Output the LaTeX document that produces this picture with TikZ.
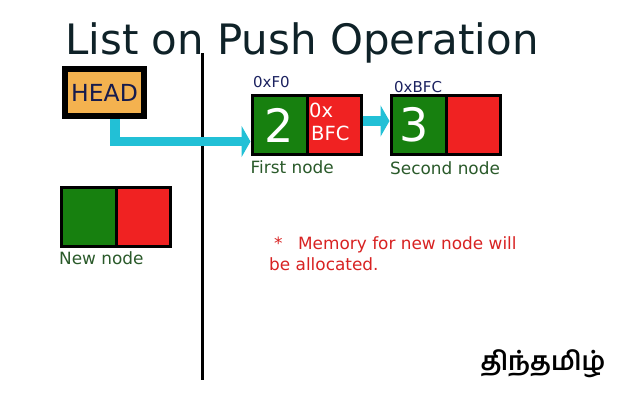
\documentclass[tikz,border=0pt]{standalone}
\usepackage{fontspec}
\setmainfont{DejaVu Sans}
\newfontfamily\tamilfont[Script=Tamil]{Hind Madurai}
\usetikzlibrary{arrows.meta,positioning}
\definecolor{cellgreen}{HTML}{17800F}
\definecolor{cellred}{HTML}{F02222}
\definecolor{headfill}{HTML}{F4B24F}
\definecolor{linkcyan}{HTML}{22C0D6}
\definecolor{navy}{HTML}{1C2260}
\definecolor{labelgreen}{HTML}{2A5A2A}
\definecolor{titleink}{HTML}{0F2228}
\definecolor{noteink}{HTML}{D82222}
\tikzset{
  x=1pt,y=-1pt,
  cell/.style={draw=black,line width=3pt,minimum width=55pt,minimum height=59pt,inner sep=0pt,text=white,align=center},
  gcell/.style={cell,fill=cellgreen,font=\fontsize{46}{46}\selectfont},
  rcell/.style={cell,fill=cellred,minimum width=54pt},
  lbl/.style={inner sep=0pt,anchor=west,text=labelgreen,font=\fontsize{16.9}{20}\selectfont},
  addr/.style={inner sep=0pt,anchor=west,text=navy,font=\fontsize{15}{17}\selectfont},
  link/.style={draw=linkcyan,line width=9.5pt,-{Triangle[length=9pt,width=31pt]}}
}
\begin{document}
\begin{tikzpicture}
\useasboundingbox (0,0) rectangle (640,400);
\fill[white] (0,0) rectangle (640,400);
\node[inner sep=0pt,anchor=base west,text=titleink,font=\fontsize{41.9}{46}\selectfont] (title) at (65,54) {List on Push Operation};
\node[draw=black,line width=6pt,fill=headfill,minimum width=79.5pt,minimum height=47pt,inner sep=0pt,text=navy!80!black,font=\fontsize{23.5}{26}\selectfont] (head) at (104.5,92.5) {HEAD};
\coordinate (top) at (202,53);
\coordinate (bottom) at (202,380);
\draw[black,line width=3pt] (top) -- (bottom);
\node[gcell] (a1) at (279.5,125) {2};
\node[rcell] (a2) at (334,125) {};
\node[gcell] (b1) at (418.5,125) {\hspace{-9pt}3};
\node[rcell] (b2) at (473,125) {};
\node[cell,fill=cellgreen] (c1) at (88.5,217) {};
\node[rcell] (c2) at (143,217) {};
\node[inner sep=0pt,anchor=west,text=white,align=left,font=\fontsize{19.5}{23}\selectfont] (a2t) at (309,121.5) {0x\\\hspace{2pt}BFC};
\coordinate (bend) at (115,141.5);
\coordinate (headout) at (115,119);
\draw[link] (headout) -- (bend) -- (bend -| a1.west);
\draw[link] (a2.east |- 0,121) -- (b1.west |- 0,121);
\node[addr] (l1) at (253,82) {0xF0};
\node[addr] (l2) at (394,87) {0xBFC};
\node[lbl] (l3) at (250.5,167) {First node};
\node[lbl] (l4) at (390,168) {Second node};
\node[lbl] (l5) at (59,258) {New node};
\node[inner sep=0pt,anchor=north west,text=noteink,align=left,font=\fontsize{16.9}{21}\selectfont] (note) at (269,236.5) {\hspace{5pt}*\hspace{15.5pt}Memory for new node will\\be allocated.};
\node[inner sep=0pt,text=black,font=\tamilfont\bfseries\fontsize{26}{30}\selectfont] (logo) at (543,364) {திந்தமிழ்};
\end{tikzpicture}
\end{document}
